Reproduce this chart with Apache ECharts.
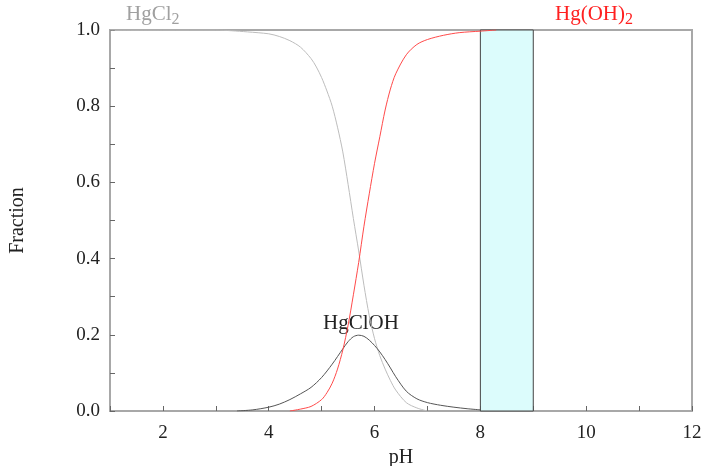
<!DOCTYPE html>
<html><head><meta charset="utf-8">
<script src="https://cdn.jsdelivr.net/npm/echarts@6/dist/echarts.min.js"></script>
<style>html,body{margin:0;padding:0;background:#fff}#c{width:706px;height:466px}</style>
</head><body><div id="c"></div>
<script>
const xTicks = [2, 4, 6, 8, 10, 12];
const yTicks = [0.0, 0.2, 0.4, 0.6, 0.8, 1.0];

const hgcl2pH = [1, 2, 3, 3.3, 3.6, 4.0, 4.2, 4.4, 4.6, 4.8, 4.9, 5.0, 5.1, 5.2, 5.3, 5.4, 5.5, 5.6, 5.7, 5.8, 5.9, 6.0, 6.1, 6.2, 6.3, 6.4, 6.6, 6.8, 7.0];
const hgcl2F  = [1, 1, 1, 0.998, 0.995, 0.99, 0.983, 0.972, 0.955, 0.925, 0.903, 0.875, 0.84, 0.80, 0.745, 0.68, 0.595, 0.505, 0.42, 0.33, 0.25, 0.19, 0.145, 0.11, 0.08, 0.055, 0.022, 0.008, 0];

const hgclohPH = [3.4, 3.7, 4.0, 4.2, 4.4, 4.6, 4.8, 5.0, 5.2, 5.4, 5.5, 5.6, 5.7, 5.8, 5.9, 6.0, 6.1, 6.2, 6.3, 6.4, 6.6, 6.8, 7.0, 7.25, 7.5, 7.75, 8.0];
const hgclohF  = [0, 0.003, 0.01, 0.018, 0.03, 0.045, 0.062, 0.088, 0.123, 0.163, 0.182, 0.195, 0.199, 0.196, 0.186, 0.172, 0.155, 0.135, 0.113, 0.09, 0.052, 0.032, 0.022, 0.015, 0.01, 0.006, 0.003];

const hgoh2PH = [4.4, 4.6, 4.8, 5.0, 5.1, 5.2, 5.3, 5.4, 5.5, 5.6, 5.7, 5.8, 5.9, 6.0, 6.1, 6.2, 6.3, 6.4, 6.6, 6.8, 7.0, 7.3, 7.6, 8.0, 8.3];
const hgoh2F  = [0, 0.005, 0.012, 0.03, 0.048, 0.073, 0.11, 0.16, 0.225, 0.305, 0.39, 0.485, 0.57, 0.65, 0.72, 0.79, 0.845, 0.885, 0.935, 0.962, 0.975, 0.986, 0.993, 0.997, 1.0];

const bandStart = 8, bandEnd = 9;

const zip = (a, b) => a.map((v, i) => [v, b[i]]);
const font = 'Liberation Serif';
const chart = echarts.init(document.getElementById('c'));
chart.setOption({
  animation: false,
  grid: {left: 110, right: 14, top: 30, bottom: 55, show: true, borderColor: '#a8a8a8', borderWidth: 2, outerBoundsMode: 'none', containLabel: false},
  xAxis: {
    type: 'value', min: 1, max: 12, interval: 1,
    name: 'pH', nameLocation: 'middle', nameGap: 35,
    nameTextStyle: {fontFamily: font, fontSize: 20, color: '#222'},
    axisLine: {lineStyle: {color: '#a8a8a8', width: 2}},
    axisTick: {inside: true, length: 5, lineStyle: {color: '#666'}},
    axisLabel: {fontFamily: font, fontSize: 19, color: '#222', margin: 13,
      formatter: v => xTicks.includes(v) ? String(v) : ''},
    splitLine: {show: false}
  },
  yAxis: {
    type: 'value', min: 0, max: 1, interval: 0.1,
    name: 'Fraction', nameLocation: 'middle', nameGap: 82, nameRotate: 90,
    nameTextStyle: {fontFamily: font, fontSize: 20, color: '#222'},
    axisLine: {show: true, lineStyle: {color: '#a8a8a8', width: 2}},
    axisTick: {show: true, inside: true, length: 5, lineStyle: {color: '#666'}},
    axisLabel: {fontFamily: font, fontSize: 19, color: '#222', margin: 10,
      formatter: v => { const r = Math.round(v * 10) / 10; return yTicks.some(t => Math.abs(t - r) < 1e-9) && Math.round(r*10)%2===0 ? r.toFixed(1) : ''; }},
    splitLine: {show: false}
  },
  series: [
    {type: 'line', data: [], silent: true,
     markArea: {silent: true, itemStyle: {color: '#dcfcfc', borderColor: '#444', borderWidth: 1},
       data: [[{xAxis: bandStart, yAxis: 0}, {xAxis: bandEnd, yAxis: 1}]]}},
    {name: 'HgCl2', type: 'line', data: zip(hgcl2pH, hgcl2F), smooth: 0.3, showSymbol: false,
     lineStyle: {color: '#bdbdbd', width: 1}},
    {name: 'HgClOH', type: 'line', data: zip(hgclohPH, hgclohF), smooth: 0.3, showSymbol: false,
     lineStyle: {color: '#555', width: 1}},
    {name: 'Hg(OH)2', type: 'line', data: zip(hgoh2PH, hgoh2F), smooth: 0.3, showSymbol: false,
     lineStyle: {color: '#ff4a4a', width: 1}}
  ],
  graphic: [
    {type: 'text', left: 126, top: 4, style: {
      text: '{a|HgCl}{s|2}', rich: {
        a: {fontFamily: font, fontSize: 21, fill: '#a0a0a0'},
        s: {fontFamily: font, fontSize: 16, fill: '#a0a0a0', padding: [10, 0, 0, 0]}}}},
    {type: 'text', left: 555, top: 4, style: {
      text: '{a|Hg(OH)}{s|2}', rich: {
        a: {fontFamily: font, fontSize: 21, fill: '#ff2020'},
        s: {fontFamily: font, fontSize: 16, fill: '#ff2020', padding: [10, 0, 0, 0]}}}},
    {type: 'text', left: 323, top: 313, style: {
      text: 'HgClOH', fontFamily: font, fontSize: 21, fill: '#222'}}
  ]
});
</script></body></html>
